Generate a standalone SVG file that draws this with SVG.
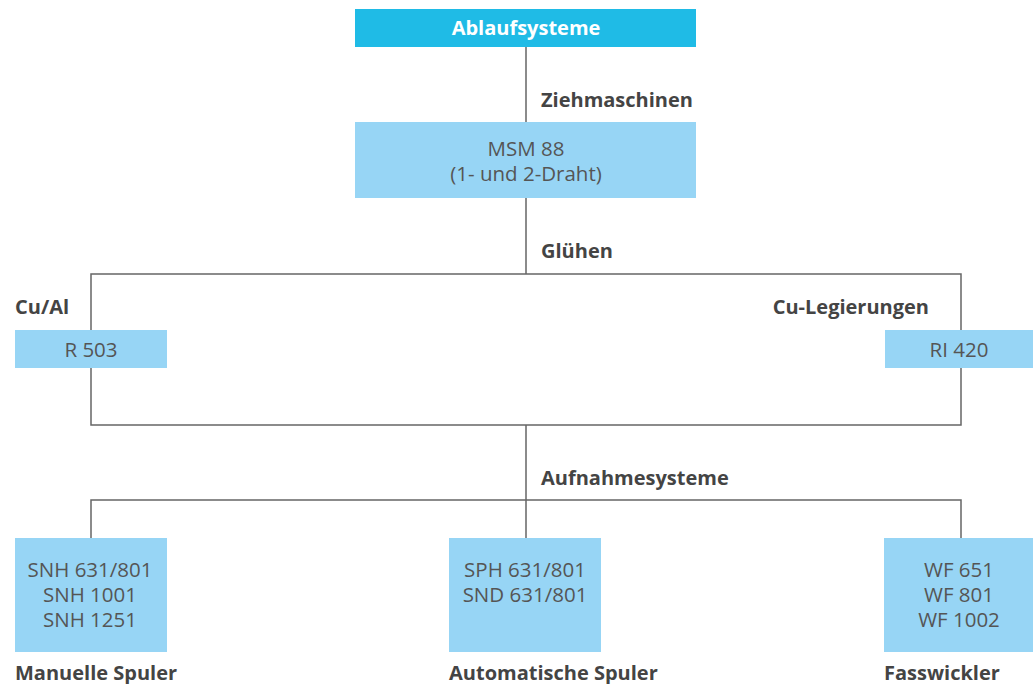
<svg xmlns="http://www.w3.org/2000/svg" width="1033" height="684" viewBox="0 0 1033 684">
<style>
.n{fill:#97d5f5}
.h{fill:#1fbbe6}
.t{font-family:"Open Sans","Liberation Sans",sans-serif;font-size:20.5px;fill:#555;text-anchor:middle}
.b{font-family:"Open Sans","Liberation Sans",sans-serif;font-size:20px;font-weight:bold;fill:#444}
.w{fill:#fff;text-anchor:middle}
.c{fill:none;stroke:#666;stroke-width:1.5}
</style>
<rect width="1033" height="684" fill="#fff"/>
<g id="connectors">
<path class="c" d="M526 47V122M526 198V274M91 274H961V425H91ZM526 425V500M91 538V500H961V538M526 500V538"/>
</g>
<g id="labels">
<text class="b" x="541" y="107">Ziehmaschinen</text>
<text class="b" x="541" y="258">Glühen</text>
<text class="b" x="15" y="314">Cu/Al</text>
<text class="b" x="929" y="314" text-anchor="end">Cu-Legierungen</text>
<text class="b" x="541" y="485">Aufnahmesysteme</text>
<text class="b" x="15" y="680">Manuelle Spuler</text>
<text class="b" x="449" y="680">Automatische Spuler</text>
<text class="b" x="884" y="680">Fasswickler</text>
</g>
<g id="ablaufsysteme">
<rect class="h" x="355" y="9" width="341" height="38"/>
<text class="b w" x="526" y="35">Ablaufsysteme</text>
</g>
<g id="msm88">
<rect class="n" x="355" y="122" width="341" height="76"/>
<text class="t" x="526" y="156">MSM 88</text>
<text class="t" x="526" y="181">(1- und 2-Draht)</text>
</g>
<g id="r503">
<rect class="n" x="15" y="330" width="152" height="38"/>
<text class="t" x="91" y="357">R 503</text>
</g>
<g id="ri420">
<rect class="n" x="885" y="330" width="148" height="38"/>
<text class="t" x="959" y="357">RI 420</text>
</g>
<g id="snh">
<rect class="n" x="15" y="538" width="152" height="114"/>
<text class="t" x="90" y="577">SNH 631/801</text>
<text class="t" x="90" y="602">SNH 1001</text>
<text class="t" x="90" y="627">SNH 1251</text>
</g>
<g id="sph">
<rect class="n" x="449" y="538" width="152" height="114"/>
<text class="t" x="525" y="577">SPH 631/801</text>
<text class="t" x="525" y="602">SND 631/801</text>
</g>
<g id="wf">
<rect class="n" x="884" y="538" width="149" height="114"/>
<text class="t" x="959" y="577">WF 651</text>
<text class="t" x="959" y="602">WF 801</text>
<text class="t" x="959" y="627">WF 1002</text>
</g>
</svg>
